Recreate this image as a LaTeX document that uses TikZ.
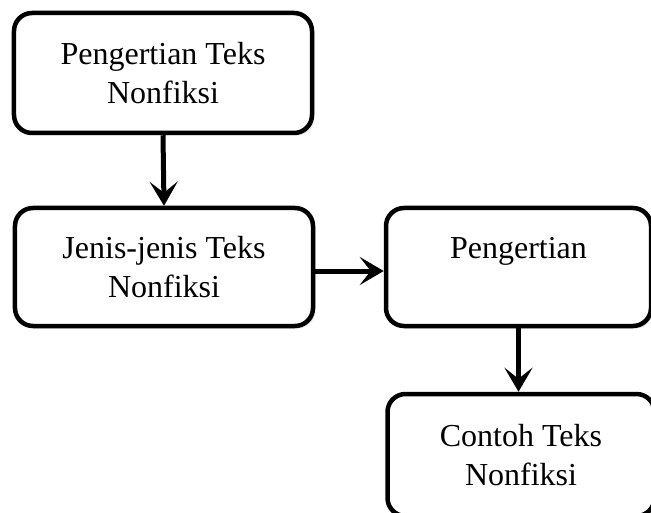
\documentclass[tikz,border=0pt]{standalone}
\usepackage{fontspec}
\setmainfont{Liberation Serif}
\usetikzlibrary{arrows.meta,shadows}
\begin{document}
\begin{tikzpicture}[x=1bp,y=-1bp,
  box/.style={draw=black, line width=4.5bp, rounded corners=18bp, fill=white,
    align=center, inner sep=0pt,
    font=\fontsize{32bp}{39bp}\selectfont,
    drop shadow={opacity=0.2, shadow xshift=2.5bp, shadow yshift=-2.5bp}},
  flow/.style={line width=5bp, -{Stealth[length=24bp, width=28bp, inset=11bp]}}]
\useasboundingbox (0,0) rectangle (651,513);
\clip (0,0) rectangle (651,513);
\node[box, minimum width=298bp, minimum height=120bp] (b1) at (163,73) {Pengertian Teks\\Nonfiksi};
\node[box, minimum width=298bp, minimum height=118bp] (b2) at (164,267) {Jenis-jenis Teks\\Nonfiksi};
\node[box, minimum width=265bp, minimum height=118bp] (b3) at (518.5,267) {Pengertian\\\phantom{N}};
\node[box, minimum width=267bp, minimum height=122bp] (b4) at (521,455) {Contoh Teks\\Nonfiksi};
\draw[flow] (b1.south) -- (b2.north);
\draw[flow] ([yshift=-4bp]b2.east) -- ([yshift=-4bp]b3.west);
\draw[flow] (b3.south) -- (b3.south |- b4.north);
\end{tikzpicture}
\end{document}
